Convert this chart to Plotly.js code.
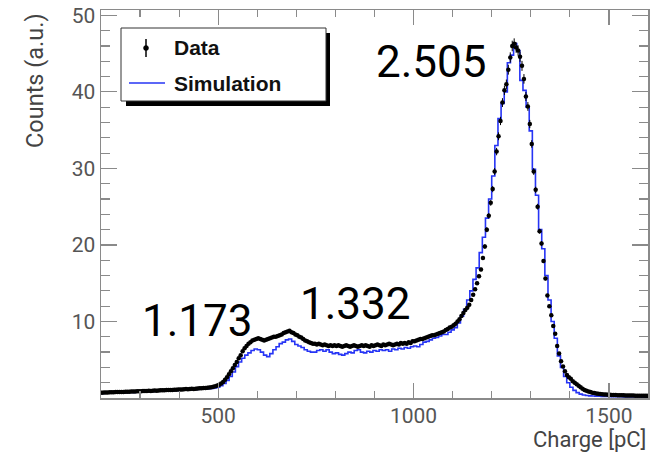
<!DOCTYPE html>
<html>
<head>
<meta charset="utf-8">
<script src="https://cdn.plot.ly/plotly-3.0.1.min.js"></script>
<style>html,body{margin:0;padding:0;background:#fff;}#chart{width:650px;height:453px;}</style>
</head>
<body>
<div id="chart"></div>
<script>
// Data histogram: 5 pC bins starting at 200 pC
const dataBinStart = 200;
const dataBinWidth = 5;
const dataCounts = [
  0.70,0.71,0.73,0.72,0.74,0.76,0.75,0.77,0.78,0.77,
  0.79,0.80,0.82,0.81,0.83,0.85,0.84,0.86,0.88,0.87,
  0.89,0.91,0.90,0.92,0.94,0.93,0.95,0.97,0.96,0.98,
  1.00,1.02,1.01,1.03,1.05,1.04,1.06,1.08,1.07,1.10,
  1.12,1.11,1.14,1.16,1.15,1.18,1.20,1.19,1.22,1.24,
  1.26,1.28,1.30,1.32,1.35,1.38,1.42,1.47,1.53,1.62,
  1.72,1.90,2.10,2.40,2.70,3.10,3.50,3.90,4.30,4.70,
  5.20,5.60,6.10,6.50,6.80,7.10,7.30,7.50,7.60,7.70,
  7.80,7.70,7.60,7.50,7.60,7.70,7.80,7.90,8.00,8.00,
  8.10,8.20,8.30,8.50,8.60,8.70,8.80,8.60,8.50,8.30,
  8.20,8.00,7.90,7.70,7.50,7.40,7.30,7.20,7.10,7.10,
  7.00,7.10,7.00,6.90,7.00,6.90,6.80,6.90,6.80,6.90,
  6.80,6.90,6.80,6.70,6.80,6.90,6.80,6.70,6.80,6.90,
  6.80,6.70,6.80,6.90,6.80,6.90,6.80,6.70,6.90,6.80,
  6.90,7.00,6.90,6.80,7.00,6.90,7.00,7.10,7.00,6.90,
  7.00,7.10,7.00,7.20,7.10,7.20,7.10,7.30,7.20,7.40,
  7.40,7.50,7.60,7.70,7.70,7.80,7.90,8.00,8.10,8.20,
  8.20,8.30,8.40,8.50,8.60,8.70,8.90,9.00,9.20,9.30,
  9.50,9.70,10.0,10.3,10.7,11.1,11.5,11.8,12.2,12.8,
  13.5,14.2,15.0,15.9,16.8,18.3,19.8,22.0,23.8,25.5,
  27.3,29.6,32.2,34.2,36.2,38.6,40.2,41.0,42.9,44.5,
  46.0,46.3,45.8,45.4,44.6,43.4,41.7,39.4,38.1,35.8,
  33.2,29.6,27.2,25.0,21.8,20.2,17.9,15.6,13.4,12.0,
  10.8,9.40,8.40,6.80,5.80,4.80,4.10,3.50,3.00,2.70,
  2.50,2.20,2.00,1.80,1.60,1.40,1.20,1.05,0.95,0.85,
  0.78,0.70,0.65,0.60,0.56,0.52,0.50,0.47,0.45,0.43,
  0.42,0.40,0.39,0.38,0.37,0.36,0.35,0.35,0.34,0.33,
  0.33,0.32,0.32,0.31,0.31,0.30,0.30,0.30,0.29,0.29
];

// Simulation histogram: 8 pC bins starting at 200 pC
const simBinStart = 200;
const simBinWidth = 8;
const simCounts = [
  0.60,0.62,0.63,0.65,0.66,0.68,0.70,0.69,0.73,0.75,
  0.74,0.78,0.80,0.79,0.83,0.85,0.86,0.88,0.90,0.92,
  0.91,0.95,0.97,0.99,1.00,1.02,1.05,1.07,1.08,1.11,
  1.13,1.15,1.17,1.20,1.22,1.25,1.30,1.40,
  1.6,1.9,2.3,2.8,3.4,4.1,4.7,5.2,5.6,5.9,
  6.2,6.4,6.3,6.0,5.6,5.4,5.8,6.3,6.7,7.1,
  7.3,7.6,7.7,7.4,7.0,6.8,6.6,6.3,6.1,6.0,
  6.0,6.2,6.3,6.1,6.3,6.0,5.8,5.9,5.7,5.6,
  5.8,6.0,5.9,6.2,6.3,6.0,5.9,6.1,6.0,6.2,
  6.1,6.3,6.2,6.3,6.1,6.4,6.3,6.5,6.4,6.6,
  6.5,6.7,6.8,6.7,7.0,7.3,7.4,7.6,7.8,7.9,
  8.1,8.3,8.3,8.6,8.9,9.2,9.8,10.7,11.6,12.8,
  14.0,15.5,17.0,19.0,21.0,23.5,26.0,29.0,33.0,36.5,
  38.5,40.0,43.8,44.8,46.3,45.4,41.5,40.2,38.0,34.9,
  29.9,26.5,22.0,19.5,16.0,12.8,10.0,7.8,5.5,4.0,
  2.8,2.0,1.4,1.0,0.7,0.5,0.4,0.32,
  0.28,0.26,0.24,0.22,0.21,0.20,0.19,0.18,0.17,0.16,
  0.16,0.15,0.15,0.14,0.14,0.13,0.13,0.12,0.12
];

const xTickVals = [500, 1000, 1500];
const yTickVals = [10, 20, 30, 40, 50];
const peakLabels = ["1.173", "1.332", "2.505"];
const legendLabels = ["Data", "Simulation"];
const xTitle = "Charge [pC]";
const yTitle = "Counts (a.u.)";

// bin positions
const dataX = dataCounts.map((_, i) => dataBinStart + dataBinWidth * (i + 0.5));
const simX = simCounts.map((_, i) => simBinStart + simBinWidth * i);
simX.push(simBinStart + simBinWidth * simCounts.length);
const simY = simCounts.concat([simCounts[simCounts.length - 1]]);

const W = 650, H = 453;
const M = {l: 101, r: 2, t: 10, b: 55};
const PW = W - M.l - M.r, PH = H - M.t - M.b;
const px = v => (v - M.l) / PW;
const py = v => (H - M.b - v) / PH;

const BLUE = 'rgb(38,52,245)';
const FONT = 'Roboto, Arial, sans-serif';

const traces = [
  {
    type: 'scatter', mode: 'lines', x: simX, y: simY,
    line: {shape: 'hv', color: BLUE, width: 1.6},
    hoverinfo: 'skip', showlegend: false
  },
  {
    type: 'scatter', mode: 'markers', x: dataX, y: dataCounts,
    marker: {color: '#000', size: 4.5},
    error_y: {type: 'percent', value: 1.5, color: '#000', thickness: 1, width: 0},
    hoverinfo: 'skip', showlegend: false
  }
];

const axisCommon = {
  showgrid: false, zeroline: false, showline: true, linecolor: '#8a8a8a', linewidth: 1.5,
  ticks: 'inside', mirror: 'allticks', tickcolor: '#8a8a8a', tickwidth: 1.2,
  tickfont: {family: FONT, size: 21, color: '#555'}
};

const layout = {
  width: W, height: H,
  margin: M,
  paper_bgcolor: '#fff', plot_bgcolor: '#fff',
  showlegend: false,
  xaxis: Object.assign({}, axisCommon, {
    range: [200, 1600], tickmode: 'array', tickvals: xTickVals, ticklen: 15, ticklabelstandoff: -2,
    minor: {tickmode: 'linear', tick0: 0, dtick: 100, ticklen: 7, tickcolor: '#8a8a8a', tickwidth: 1.2, ticks: 'inside'}
  }),
  yaxis: Object.assign({}, axisCommon, {
    range: [0, 50.7], tickmode: 'array', tickvals: yTickVals, ticklen: 16,
    minor: {tickmode: 'linear', tick0: 0, dtick: 2, ticklen: 9, tickcolor: '#8a8a8a', tickwidth: 1.2, ticks: 'inside'}
  }),
  shapes: [
    {type: 'rect', xref: 'paper', yref: 'paper', x0: px(126), x1: px(330), y0: py(106), y1: py(33),
     fillcolor: '#000', line: {width: 0}, layer: 'above'},
    {type: 'rect', xref: 'paper', yref: 'paper', x0: px(121), x1: px(326), y0: py(101), y1: py(28),
     fillcolor: '#fff', line: {color: '#333', width: 1}, layer: 'above'},
    {type: 'line', xref: 'paper', yref: 'paper', x0: px(146), x1: px(146), y0: py(57), y1: py(39),
     line: {color: '#000', width: 1.5}, layer: 'above'},
    {type: 'circle', xref: 'paper', yref: 'paper', x0: px(143.5), x1: px(148.5), y0: py(50.5), y1: py(45.5),
     fillcolor: '#000', line: {color: '#000', width: 0.5}, layer: 'above'},
    {type: 'line', xref: 'paper', yref: 'paper', x0: px(129), x1: px(165), y0: py(83), y1: py(83),
     line: {color: BLUE, width: 1.6}, layer: 'above'}
  ],
  annotations: [
    {xref: 'paper', yref: 'paper', x: px(172), y: py(48), xanchor: 'left', yanchor: 'middle',
     text: '<b>' + legendLabels[0] + '</b>', showarrow: false,
     font: {family: '"Liberation Sans", Arial, sans-serif', size: 21, color: '#111'}},
    {xref: 'paper', yref: 'paper', x: px(172), y: py(83), xanchor: 'left', yanchor: 'middle',
     text: '<b>' + legendLabels[1] + '</b>', showarrow: false,
     font: {family: '"Liberation Sans", Arial, sans-serif', size: 21, color: '#111'}},
    {xref: 'paper', yref: 'paper', x: px(197), y: py(321), xanchor: 'center', yanchor: 'middle',
     text: peakLabels[0], showarrow: false,
     font: {family: FONT, size: 44, color: '#000'}},
    {xref: 'paper', yref: 'paper', x: px(355), y: py(304), xanchor: 'center', yanchor: 'middle',
     text: peakLabels[1], showarrow: false,
     font: {family: FONT, size: 44, color: '#000'}},
    {xref: 'paper', yref: 'paper', x: px(431), y: py(62), xanchor: 'center', yanchor: 'middle',
     text: peakLabels[2], showarrow: false,
     font: {family: FONT, size: 44, color: '#000'}},
    {xref: 'paper', yref: 'paper', x: px(647), y: py(453), xanchor: 'right', yanchor: 'bottom',
     text: xTitle, showarrow: false, borderpad: 0,
     font: {family: FONT, size: 22, color: '#444'}},
    {xref: 'paper', yref: 'paper', x: px(35), y: py(81), xanchor: 'center', yanchor: 'middle',
     text: yTitle, showarrow: false, textangle: -90,
     font: {family: FONT, size: 23.5, color: '#444'}}
  ]
};

Plotly.newPlot('chart', traces, layout, {staticPlot: true, displayModeBar: false});
</script>
</body>
</html>
